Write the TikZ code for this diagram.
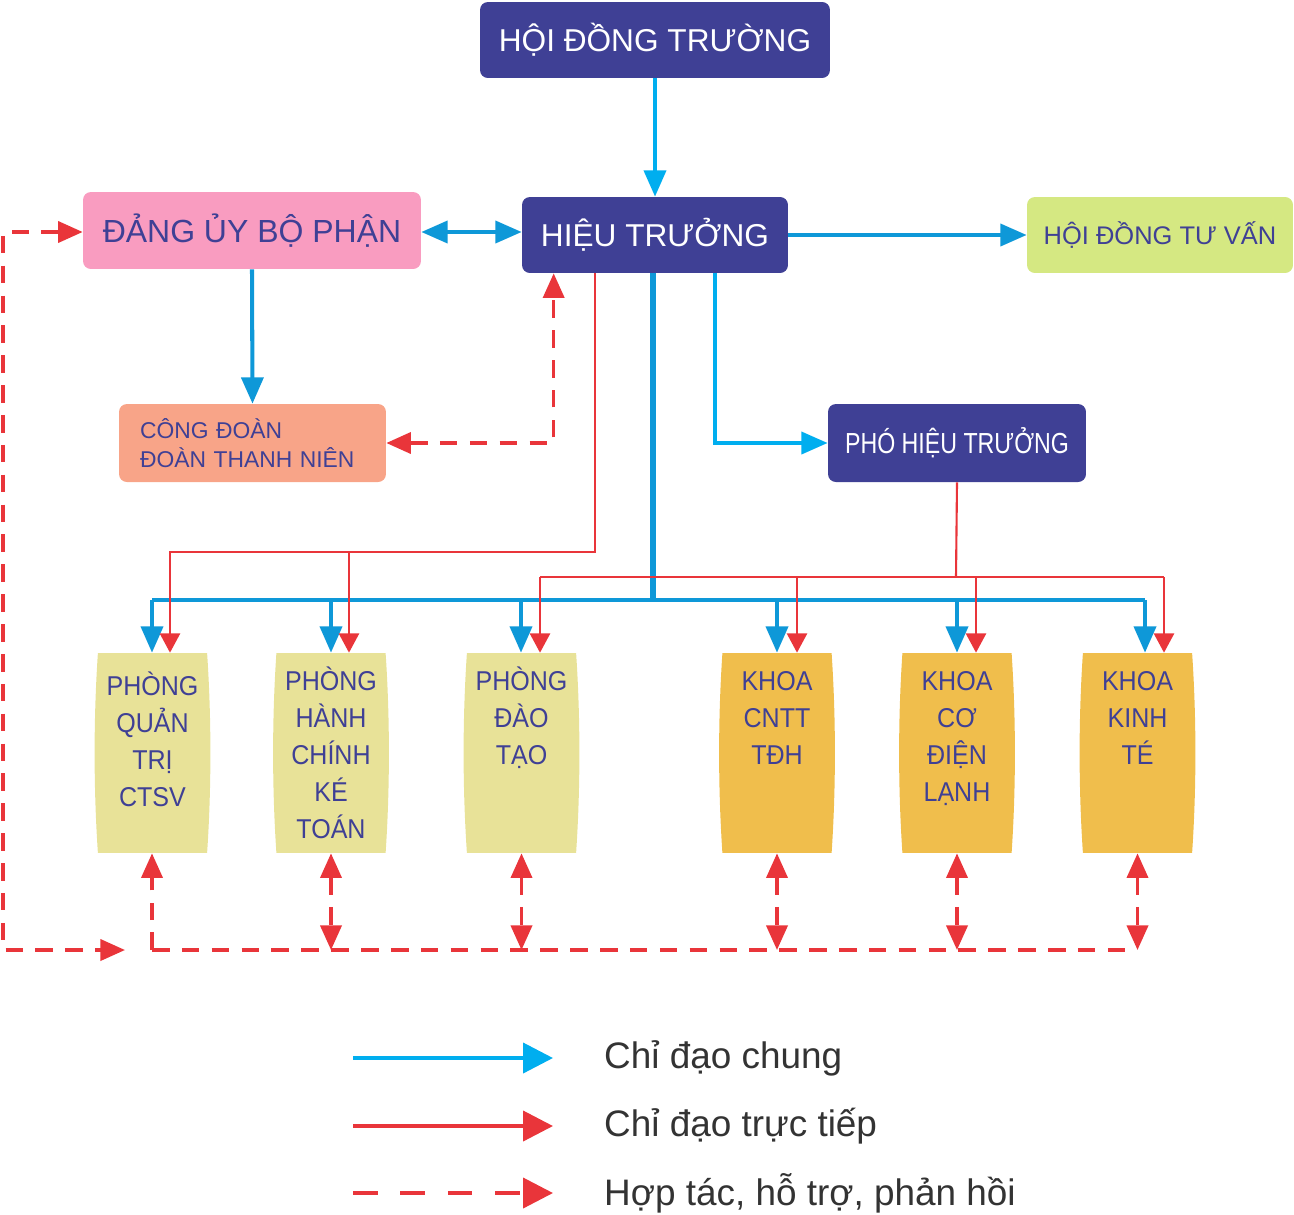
\documentclass[tikz,border=0pt]{standalone}
\usepackage{fontspec}
\setmainfont{Liberation Sans}
\newfontfamily\narrowfont[FakeStretch=0.92]{Liberation Sans}
\newfontfamily\phtfont[FakeStretch=0.8]{Liberation Sans}
\usetikzlibrary{calc}
\usetikzlibrary{arrows.meta}
\usepackage{xcolor}
\definecolor{indigo}{RGB}{63,64,149}
\definecolor{pinkbox}{RGB}{249,156,192}
\definecolor{limebox}{RGB}{213,232,130}
\definecolor{salmon}{RGB}{248,164,136}
\definecolor{khaki}{RGB}{232,226,152}
\definecolor{amber}{RGB}{240,190,76}
\definecolor{cblue}{RGB}{14,152,216}
\definecolor{ccyan}{RGB}{0,174,239}
\definecolor{cred}{RGB}{233,53,58}
\definecolor{legendtext}{RGB}{51,51,51}

\begin{document}
\begin{tikzpicture}[x=0.02cm,y=-0.02cm,
 box/.style={rounded corners=4.5pt, inner sep=0pt, align=center},
 headbox/.style={box, fill=indigo, text=white, font=\fontsize{18}{20}\selectfont},
 bline/.style={cblue, line width=2.3pt, >={Triangle[length=15pt,width=12.5pt]}},
 cline/.style={ccyan, line width=2.3pt, >={Triangle[length=15pt,width=12.5pt]}},
 rline/.style={cred, line width=1.2pt, >={Triangle[length=11pt,width=11.5pt]}},
 dline/.style={cred, line width=2pt, dash pattern=on 10pt off 7pt, >={Triangle[length=14pt,width=12pt]}},
 ubox/.style={minimum width=2.36cm, minimum height=4cm, inner sep=0pt, text=indigo,
  font=\narrowfont\fontsize{15.5}{21}\selectfont,
  path picture={\fill[#1] ([xshift=2.5pt]path picture bounding box.north west)
   -- ([xshift=-2.5pt]path picture bounding box.north east)
   .. controls ([yshift=-1.3cm]path picture bounding box.north east) and ([yshift=1.3cm]path picture bounding box.south east)
   .. ([xshift=-2.5pt]path picture bounding box.south east)
   -- ([xshift=2.5pt]path picture bounding box.south west)
   .. controls ([yshift=1.3cm]path picture bounding box.south west) and ([yshift=-1.3cm]path picture bounding box.north west)
   .. cycle;}}]
\useasboundingbox (0,0) rectangle (1294,1214);

\node[headbox, minimum width=7cm, minimum height=1.52cm] (hdt) at (655,40) {HỘI ĐỒNG TRƯỜNG};
\node[headbox, minimum width=5.32cm, minimum height=1.52cm] (ht) at (655,235) {HIỆU TRƯỞNG};
\node[box, fill=pinkbox, text=indigo, minimum width=6.76cm, minimum height=1.54cm, font=\fontsize{18.2}{20}\selectfont] (dang) at (252,230.5) {ĐẢNG ỦY BỘ PHẬN};
\node[box, fill=limebox, text=indigo, minimum width=5.32cm, minimum height=1.52cm, font=\fontsize{14.5}{17}\selectfont] (hdtv) at (1160,235) {HỘI ĐỒNG TƯ VẤN};
\node[box, fill=salmon, text=indigo, align=left, text width=4.5cm, inner xsep=0.42cm, minimum height=1.56cm, font=\fontsize{13}{16.5}\selectfont] (cd) at (252.5,443) {CÔNG ĐOÀN\\ĐOÀN THANH NIÊN};
\node[headbox, minimum width=5.16cm, minimum height=1.56cm, font=\phtfont\fontsize{16.5}{20}\selectfont] (pht) at (957,443) {PHÓ HIỆU TRƯỞNG};

\node[ubox=khaki] (pqt) at (152.5,753) {\parbox[t][3.32cm][t]{2.36cm}{\centering\strut PHÒNG\\QUẢN\\TRỊ\\CTSV}};
\node[ubox=khaki] (hckt) at (331,753) {\parbox[t][3.52cm][t]{2.36cm}{\centering\strut PHÒNG\\HÀNH\\CHÍNH\\KÉ\\TOÁN}};
\node[ubox=khaki] (pdt) at (521.5,753) {\parbox[t][3.52cm][t]{2.36cm}{\centering\strut PHÒNG\\ĐÀO\\TẠO}};
\node[ubox=amber] (cntt) at (777,753) {\parbox[t][3.52cm][t]{2.36cm}{\centering\strut KHOA\\CNTT\\TĐH}};
\node[ubox=amber] (cdl) at (957,753) {\parbox[t][3.52cm][t]{2.36cm}{\centering\strut KHOA\\CƠ\\ĐIỆN\\LẠNH}};
\node[ubox=amber] (kt) at (1137.5,753) {\parbox[t][3.52cm][t]{2.36cm}{\centering\strut KHOA\\KINH\\TÉ}};

\coordinate (bbus) at (653,600);
\coordinate (rbus) at (956,577);
\coordinate (rtop) at (170,552);
\coordinate (dbus) at (152,950);
\coordinate (loopend) at (125,950);

\draw[cline,->] (hdt.south) -- (ht.north);
\draw[bline,<->] (dang.east |- 0,232) -- (ht.west |- 0,232);
\draw[bline,->] (ht.east) -- (hdtv.west);
\draw[bline,->] (dang.south) -- (cd.north);
\draw[cline,->] ($(ht.south west)+(193,0)$) |- (pht.west);
\draw[bline, line width=3.4pt] (ht.south -| bbus) -- (bbus);
\draw[bline] (152,600) -- (1145,600);
\foreach \b/\bx in {pqt/152, hckt/331, pdt/521, cntt/777, cdl/957, kt/1145}
 \draw[bline,->] (\bx,600) -- (\bx,0 |- \b.north);

\draw[rline,->] ($(ht.south west)+(73,0)$) |- (rtop) -- (rtop |- pqt.north);
\draw[rline,->] (349,552) -- (349,0 |- hckt.north);
\draw[rline] (pht.south) -- (rbus);
\draw[rline] (540,577) -- (1164,577);
\foreach \b/\rx in {pdt/540, cntt/797, cdl/976, kt/1164}
 \draw[rline,->] (\rx,577) -- (\rx,0 |- \b.north);

\draw[dline,<->] (cd.east) -| ($(ht.south west)+(32,0)$);
\draw[dline,<->] (dang.west |- 0,232) -- (3,232) |- (loopend);
\draw[dline] (dbus) -- (1137,950);
\draw[dline,->] (dbus) -- (pqt.south -| dbus);
\foreach \b in {hckt, pdt, cntt, cdl, kt}
 \draw[dline,<->] (\b.south) -- (\b.south |- dbus);

\coordinate (lg1) at (353,1058);
\coordinate (lg2) at (353,1126);
\coordinate (lg3) at (353,1193);
\draw[cline, >={Triangle[length=17pt,width=17pt]}, ->] (lg1) -- ++(200,0);
\draw[cred, line width=2.3pt, >={Triangle[length=17pt,width=17pt]}, ->] (lg2) -- ++(200,0);
\draw[dline, line width=2.3pt, dash pattern=on 14pt off 13pt, >={Triangle[length=17pt,width=17pt]}, ->] (lg3) -- ++(200,0);
\node[anchor=west, text=legendtext, font=\fontsize{21}{24}\selectfont] (lt1) at (598,1058) {Chỉ đạo chung};
\node[anchor=west, text=legendtext, font=\fontsize{21}{24}\selectfont] (lt2) at (598,1126) {Chỉ đạo trực tiếp};
\node[anchor=west, text=legendtext, font=\fontsize{21}{24}\selectfont] (lt3) at (598,1193) {Hợp tác, hỗ trợ, phản hồi};
\end{tikzpicture}
\end{document}
